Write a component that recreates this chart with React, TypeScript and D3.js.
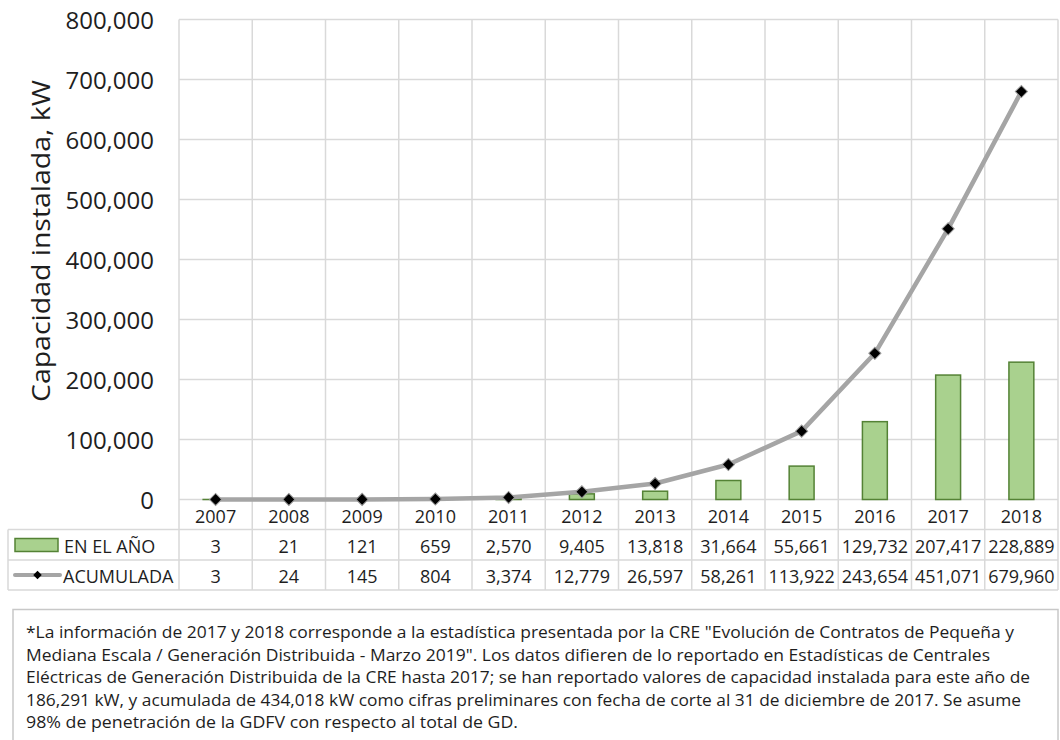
import React from "react";
import * as d3 from "d3";

// Capacidad instalada de generación distribuida fotovoltaica (kW)
const years = ["2007", "2008", "2009", "2010", "2011", "2012", "2013", "2014", "2015", "2016", "2017", "2018"];
const enElAno = [3, 21, 121, 659, 2570, 9405, 13818, 31664, 55661, 129732, 207417, 228889];
const acumulada = [3, 24, 145, 804, 3374, 12779, 26597, 58261, 113922, 243654, 451071, 679960];
const yTicks = [0, 100000, 200000, 300000, 400000, 500000, 600000, 700000, 800000];

const noteLines = [
  "*La información de 2017 y 2018 corresponde a la estadística presentada por la CRE \"Evolución de Contratos de Pequeña y",
  "Mediana Escala / Generación Distribuida - Marzo 2019\". Los datos difieren de lo reportado en Estadísticas de Centrales",
  "Eléctricas de Generación Distribuida de la CRE hasta 2017; se han reportado valores de capacidad instalada para este año de",
  "186,291 kW, y acumulada de 434,018 kW como cifras preliminares con fecha de corte al 31 de diciembre de 2017. Se asume",
  "98% de penetración de la GDFV con respecto al total de GD.",
];
const noteWidths = [988, 964, 1004, 995, 492];

const W = 1060;
const H = 740;
const plotLeft = 179;
const plotRight = 1058;
const plotTop = 19.5;
const plotBottom = 499.5;
const tableLeft = 8;
const rowLines = [499.5, 529.5, 560, 590];

const FONT = "'Open Sans', 'Noto Sans', sans-serif";
const TEXT = "#1e1e1e";
const GRID = "#d9d9d9";
const BAR_FILL = "#a9d18e";
const BAR_STROKE = "#548235";
const LINE = "#a5a5a5";

const fmt = d3.format(",");

export default function App() {
  const x = d3.scaleBand<string>().domain(years).range([plotLeft, plotRight]).paddingInner(0.66).paddingOuter(0.33);
  const step = x.step();
  const y = d3.scaleLinear().domain([0, 800000]).range([plotBottom, plotTop]);
  const cx = (yr: string) => (x(yr) as number) + x.bandwidth() / 2;
  const colEdges = years.map((yr) => cx(yr) - step / 2).concat([plotRight]);

  const linePath = d3
    .line<number>()
    .x((_, i) => cx(years[i]))
    .y((v) => y(v))(acumulada) as string;

  const diamond = d3.symbol().type(d3.symbolSquare).size(74)() as string;

  const rowMid = [(rowLines[0] + rowLines[1]) / 2, (rowLines[1] + rowLines[2]) / 2, (rowLines[2] + rowLines[3]) / 2];

  return (
    <svg width={W} height={H} style={{ position: "absolute", left: 0, top: 0, background: "#fff" }} fontFamily={FONT}>
      {/* horizontal gridlines */}
      {yTicks.map((t) => (
        <line key={"h" + t} x1={plotLeft} x2={plotRight} y1={y(t)} y2={y(t)} stroke={GRID} strokeWidth={1.5} />
      ))}
      {/* vertical gridlines through plot and year row */}
      {colEdges.map((e, i) => (
        <line key={"v" + i} x1={e} x2={e} y1={plotTop} y2={rowLines[3]} stroke={GRID} strokeWidth={1.5} />
      ))}
      {/* data table lines */}
      {rowLines.slice(1).map((r, i) => (
        <line key={"r" + i} x1={tableLeft} x2={plotRight} y1={r} y2={r} stroke={GRID} strokeWidth={1.5} />
      ))}
      <line x1={tableLeft} x2={tableLeft} y1={rowLines[1]} y2={rowLines[3]} stroke={GRID} strokeWidth={1.5} />

      {/* y tick labels */}
      {yTicks.map((t) => (
        <text key={"t" + t} x={154} y={y(t)} textAnchor="end" dominantBaseline="central" fontSize={24} fill={TEXT}>
          {fmt(t)}
        </text>
      ))}
      <text
        transform={`translate(40,241) rotate(-90)`}
        textAnchor="middle"
        dominantBaseline="central"
        fontSize={25}
        fill={TEXT}
        textLength={322}
        lengthAdjust="spacingAndGlyphs"
      >
        Capacidad instalada, kW
      </text>

      {/* annual bars */}
      {enElAno.map((v, i) => (
        <rect
          key={"b" + i}
          x={x(years[i])}
          y={y(v)}
          width={x.bandwidth()}
          height={Math.max(0, plotBottom - y(v))}
          fill={BAR_FILL}
          stroke={BAR_STROKE}
          strokeWidth={1.5}
        />
      ))}

      {/* cumulative line */}
      <path d={linePath} fill="none" stroke={LINE} strokeWidth={4.5} strokeLinejoin="round" />
      {acumulada.map((v, i) => (
        <path
          key={"m" + i}
          d={diamond}
          transform={`translate(${cx(years[i])},${y(v)}) rotate(45)`}
          fill="#000"
          stroke="#9a9a9a"
          strokeWidth={1}
        />
      ))}

      {/* table: years */}
      {years.map((yr) => (
        <text key={"y" + yr} x={cx(yr)} y={rowMid[0] + 1} textAnchor="middle" dominantBaseline="central" fontSize={18} fill={TEXT}>
          {yr}
        </text>
      ))}
      {/* table: EN EL AÑO */}
      <rect x={15} y={538.5} width={43} height={13} fill={BAR_FILL} stroke={BAR_STROKE} strokeWidth={1.5} />
      <text x={64} y={rowMid[1] + 1} dominantBaseline="central" fontSize={18} fill={TEXT}>
        EN EL AÑO
      </text>
      {enElAno.map((v, i) => (
        <text key={"a" + i} x={cx(years[i])} y={rowMid[1] + 1} textAnchor="middle" dominantBaseline="central" fontSize={18} fill={TEXT}>
          {fmt(v)}
        </text>
      ))}
      {/* table: ACUMULADA */}
      <line x1={15} x2={60} y1={rowMid[2]} y2={rowMid[2]} stroke={LINE} strokeWidth={4} strokeLinecap="round" />
      <path d={d3.symbol().type(d3.symbolSquare).size(36)() as string} transform={`translate(37.5,${rowMid[2]}) rotate(45)`} fill="#000" />
      <text x={63} y={rowMid[2] + 1} dominantBaseline="central" fontSize={18} fill={TEXT}>
        ACUMULADA
      </text>
      {acumulada.map((v, i) => (
        <text key={"c" + i} x={cx(years[i])} y={rowMid[2] + 1} textAnchor="middle" dominantBaseline="central" fontSize={18} fill={TEXT}>
          {fmt(v)}
        </text>
      ))}

      {/* note box */}
      <rect x={13} y={609.5} width={1045} height={150} fill="#fff" stroke="#c8c8c8" strokeWidth={1.5} />
      {noteLines.map((l, i) => (
        <text
          key={"n" + i}
          x={26}
          y={638 + i * 22.5}
          fontSize={17}
          fill={TEXT}
          textLength={noteWidths[i]}
          lengthAdjust="spacingAndGlyphs"
        >
          {l}
        </text>
      ))}
    </svg>
  );
}
